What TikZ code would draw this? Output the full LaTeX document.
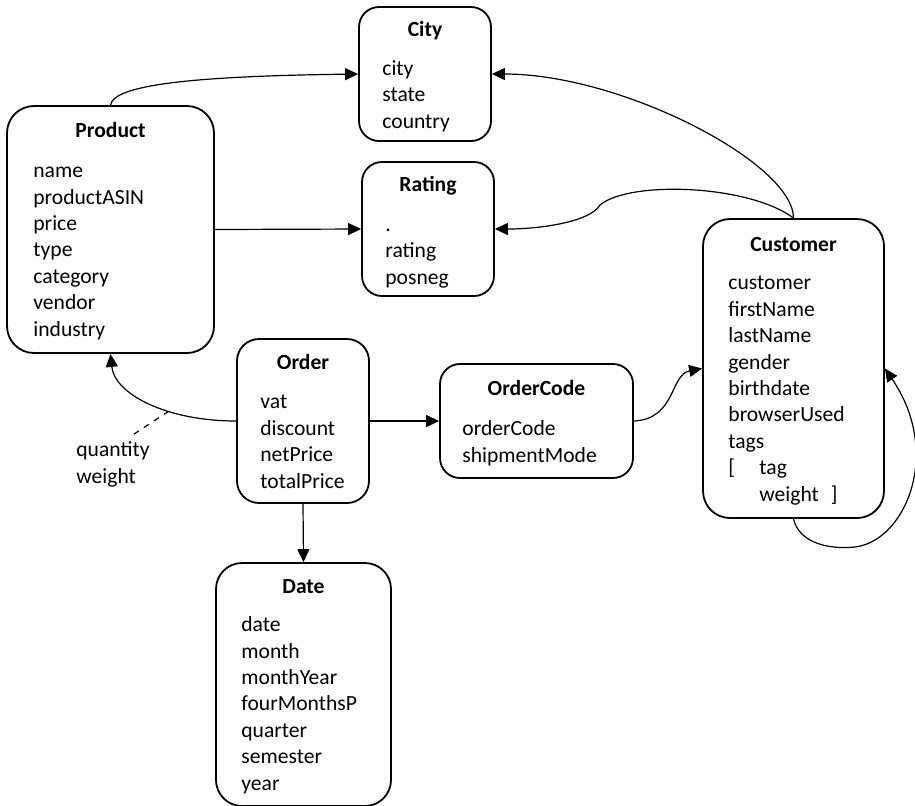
\documentclass[tikz,border=0pt]{standalone}
\usepackage{fontspec}
\setmainfont{Carlito}
\usetikzlibrary{arrows.meta}

\newcommand\boxfont{\fontsize{10.8}{13.2}\selectfont}

\tikzset{
  entity/.style={draw, line width=0.9pt, rounded corners=#1, inner sep=0pt},
  entity/.default=10pt,
  title/.style={anchor=base, font=\boxfont\bfseries},
  attrs/.style={anchor=base west, align=left, font=\boxfont, inner sep=0pt},
  link/.style={line width=0.6pt, -{Triangle[length=6.5pt,width=6pt]}},
}

\begin{document}
\begin{tikzpicture}[x=0.5pt, y=-0.5pt]
        \useasboundingbox (0,0) rectangle (915,805);

        %City
        \node [entity=10pt, minimum width=66pt, minimum height=67pt] (city) at (425,74) {};
        \node [title] (citytitle) at (425,36) {City};
        \node [attrs] (cityattrs) at (382,128) {city\\state\\country};

        %Product
        \node [entity=13.5pt, minimum width=103.5pt, minimum height=123.5pt] (product) at (110.5,229.5) {};
        \node [title] (producttitle) at (110.5,137) {Product};
        \node [attrs] (productattrs) at (33,336) {name\\productASIN\\price\\type\\category\\vendor\\industry};

        %Rating
        \node [entity=10pt, minimum width=66pt, minimum height=67pt] (rating) at (428,229) {};
        \node [title] (ratingtitle) at (428,191) {Rating};
        \node [attrs] (ratingattrs) at (385,284) {.\\rating\\posneg};

        %Customer
        \node [entity=13.5pt, minimum width=90.5pt, minimum height=149.5pt] (customer) at (793.5,368.5) {};
        \node [title] (customertitle) at (793.5,251) {Customer};
        \node [attrs] (customerattrs) at (728,501) {customer\\firstName\\lastName\\gender\\birthdate\\browserUsed\\tags\\
          \makebox[15.5pt][l]{[}tag\\\hspace*{15.5pt}weight\hspace{6pt}]};

        %Order
        \node [entity=11pt, minimum width=66pt, minimum height=82pt] (order) at (303,421) {};
        \node [title] (ordertitle) at (303,369) {Order};
        \node [attrs] (orderattrs) at (260,488) {vat\\discount\\netPrice\\totalPrice};

        %Order code
        \node [entity=10pt, minimum width=96.5pt, minimum height=57pt] (ordercode) at (536.5,421) {};
        \node [title] (ordercodetitle) at (536.5,395) {OrderCode};
        \node [attrs] (ordercodeattrs) at (462,462) {orderCode\\shipmentMode};

        %Date
        \node [entity=13pt, minimum width=87.5pt, minimum height=121.5pt] (date) at (303.5,684.5) {};
        \node [title] (datetitle) at (303.5,593) {Date};
        \node [attrs] (dateattrs) at (241,790) {date\\month\\monthYear\\fourMonthsP\\quarter\\semester\\year};

        %Measures on the order link
        \node [attrs] (measures) at (76,483) {quantity\\weight};
        \coordinate (measuretip) at (131,436);

        %Links
        \coordinate (ratingkink) at (600,205);
        \coordinate (loopbottom) at (855,547);
        \draw [link] (product.north) .. controls +(3,-22) and +(-150,2) .. (city.west);
        \draw [link] (customer.north) .. controls +(0,-55) and +(130,0) .. (city.east);
        \draw [link] (customer.north) .. controls (750,185) and (630,180) .. (ratingkink)
                     .. controls (590,222) and (540,229) .. (rating.east);
        \draw [link] (product.east) -- (rating.west);
        \draw [link] (order.west) .. controls +(-70,0) and +(4,40) .. coordinate[pos=0.36] (measureroot) (product.south);
        \draw [dashed, line width=0.6pt] (measureroot) -- (measuretip);
        \draw [link] (order.east) -- (ordercode.west);
        \draw [link] (ordercode.east) .. controls +(42,-2) and +(-32,6) .. (customer.west);
        \draw [link] (order.south) -- (date.north);
        \draw [link] (customer.south) .. controls +(5,22) and +(-30,3) .. (loopbottom)
                     .. controls +(50,-6) and +(58,85) .. (customer.east);

      \end{tikzpicture}
\end{document}
